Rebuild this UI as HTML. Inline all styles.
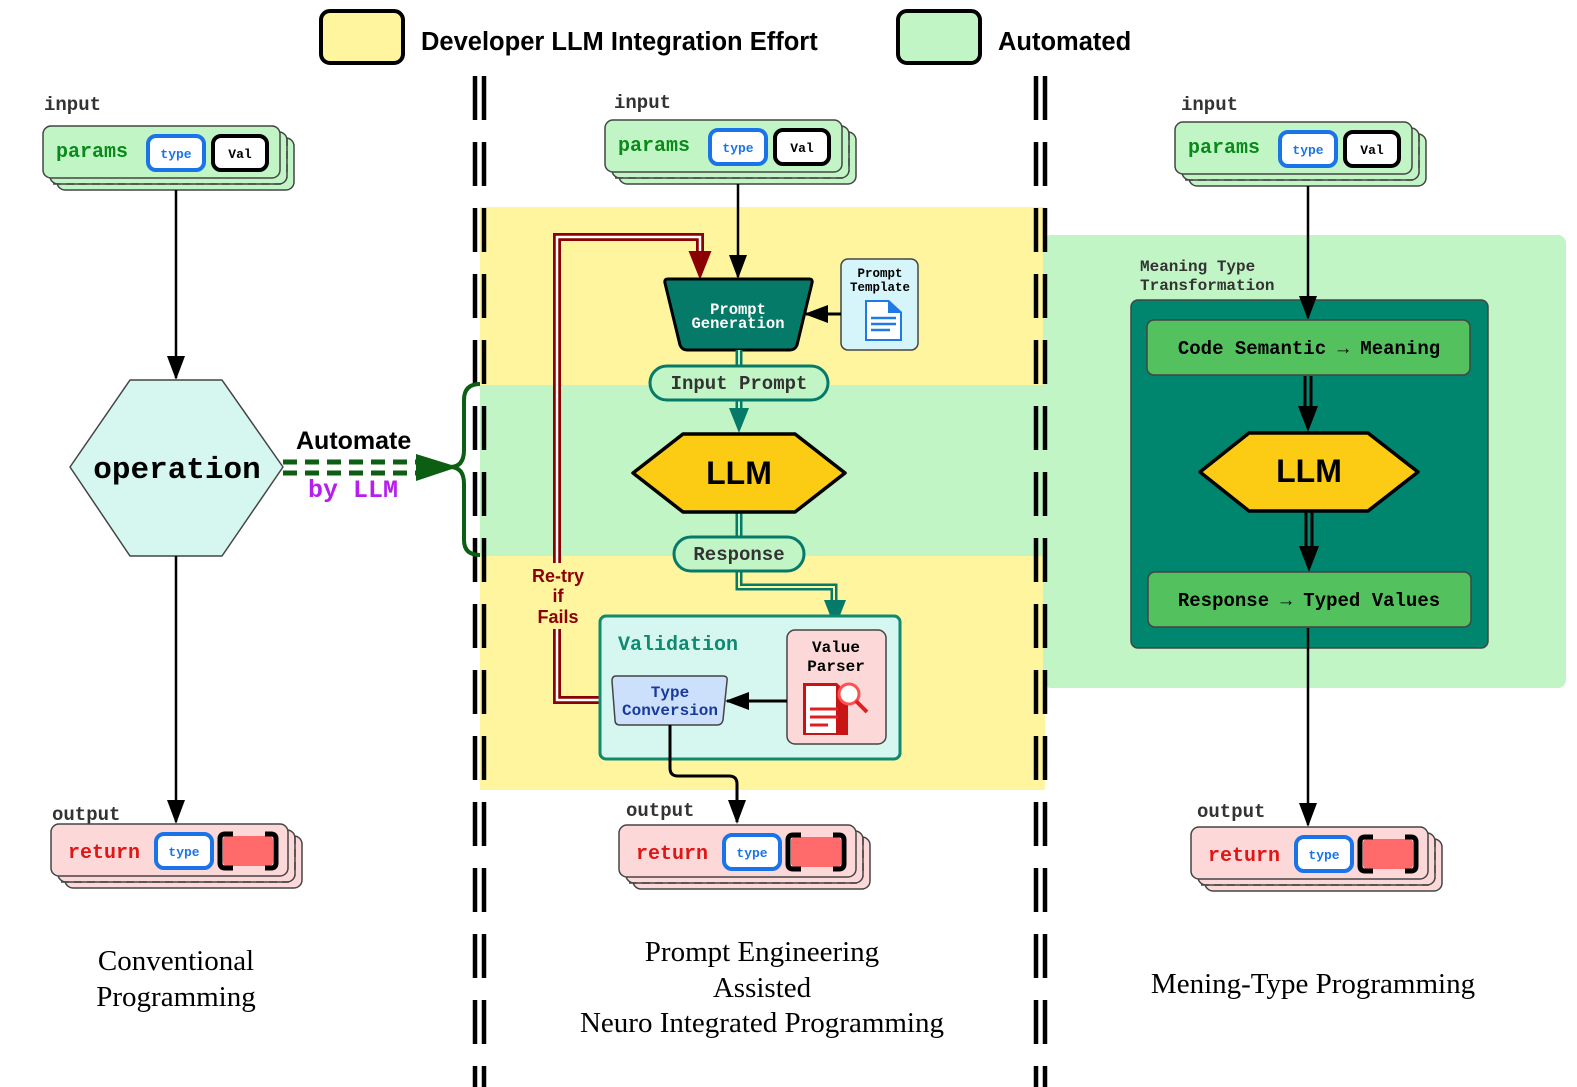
<!DOCTYPE html>
<html><head><meta charset="utf-8"><style>
html,body{margin:0;padding:0;background:#fff;overflow:hidden;width:1577px;height:1087px;}
svg{display:block;}
.m{font-family:"Liberation Mono","DejaVu Sans Mono",monospace;font-weight:bold;}
.s{font-family:"Liberation Sans",sans-serif;font-weight:bold;}
.r{font-family:"Liberation Serif",serif;}
</style></head><body>
<svg width="1577" height="1087" viewBox="0 0 1577 1087" xmlns="http://www.w3.org/2000/svg">
<defs>
<g id="params">
  <rect x="14" y="12" width="237" height="52" rx="8" fill="#c2f5c6" stroke="#444" stroke-width="1.5"/>
  <rect x="7" y="6" width="237" height="52" rx="8" fill="#c2f5c6" stroke="#444" stroke-width="1.5"/>
  <path d="M10 58 H238 M244 12 V52" stroke="#444" stroke-width="1.5" stroke-dasharray="8 5" fill="none"/>
  <rect x="0" y="0" width="237" height="52" rx="8" fill="#c2f5c6" stroke="#444" stroke-width="1.5"/>
  <text x="13" y="31" class="m" font-size="20" fill="#0a8a1a">params</text>
  <rect x="105" y="10" width="56" height="34" rx="8" fill="#fff" stroke="#1a73e8" stroke-width="4"/>
  <text x="133" y="32" class="m" font-size="13" fill="#1a73e8" text-anchor="middle">type</text>
  <rect x="170" y="10" width="54" height="34" rx="8" fill="#fff" stroke="#000" stroke-width="4"/>
  <text x="197" y="32" class="m" font-size="13" fill="#000" text-anchor="middle">Val</text>
</g>
<g id="ret">
  <rect x="14" y="12" width="237" height="52" rx="8" fill="#fdd8d8" stroke="#444" stroke-width="1.5"/>
  <rect x="7" y="6" width="237" height="52" rx="8" fill="#fdd8d8" stroke="#444" stroke-width="1.5"/>
  <path d="M10 58 H238 M244 12 V52" stroke="#444" stroke-width="1.5" stroke-dasharray="8 5" fill="none"/>
  <rect x="0" y="0" width="237" height="52" rx="8" fill="#fdd8d8" stroke="#444" stroke-width="1.5"/>
  <text x="17" y="34" class="m" font-size="20" fill="#e01515">return</text>
  <rect x="105" y="10" width="56" height="34" rx="8" fill="#fff" stroke="#1a73e8" stroke-width="4"/>
  <text x="133" y="32" class="m" font-size="13" fill="#1a73e8" text-anchor="middle">type</text>
  <rect x="172" y="12" width="50" height="30" rx="4" fill="#ff6b6b"/>
  <path d="M182 10 H174 Q169 10 169 15 V39 Q169 44 174 44 H182 M214 10 H220 Q225 10 225 15 V39 Q225 44 220 44 H214" stroke="#000" stroke-width="5" fill="none"/>
</g>
<marker id="ab" markerWidth="24" markerHeight="18" refX="22" refY="9" orient="auto" markerUnits="userSpaceOnUse" viewBox="0 0 24 18"><path d="M0 0 L24 9 L0 18z" fill="#000"/></marker>
</defs>

<rect x="480" y="207" width="565" height="178" fill="#fff59f"/>
<rect x="480" y="385" width="565" height="171" fill="#c2f5c6"/>
<rect x="480" y="556" width="565" height="234" fill="#fff59f"/>
<rect x="1043" y="235" width="523" height="453" rx="8" fill="#c2f5c6"/>

<g stroke="#000" stroke-width="4.5" stroke-dasharray="44 22">
<line x1="475" y1="76" x2="475" y2="1087"/><line x1="484" y1="76" x2="484" y2="1087"/>
<line x1="1036" y1="76" x2="1036" y2="1087"/><line x1="1045" y1="76" x2="1045" y2="1087"/>
</g>

<rect x="321" y="11" width="82" height="52" rx="9" fill="#fff59f" stroke="#000" stroke-width="4"/>
<text x="421" y="50" class="s" font-size="25.5" fill="#000">Developer LLM Integration Effort</text>
<rect x="898" y="11" width="82" height="52" rx="9" fill="#c2f5c6" stroke="#000" stroke-width="4"/>
<text x="998" y="50" class="s" font-size="25.5" fill="#000">Automated</text>

<text x="44" y="110" class="m" font-size="19" fill="#333">input</text>
<use href="#params" x="43" y="126"/>
<line x1="176" y1="190" x2="176" y2="378" stroke="#000" stroke-width="2.5" marker-end="url(#ab)"/>
<polygon points="70,467 130,380 222,380 283,467 222,556 130,556" fill="#d5f7ef" stroke="#444" stroke-width="1.5" stroke-linejoin="round"/>
<text x="177" y="478" class="m" font-size="31" fill="#000" text-anchor="middle">operation</text>
<line x1="176" y1="556" x2="176" y2="822" stroke="#000" stroke-width="2.5" marker-end="url(#ab)"/>
<text x="52" y="820" class="m" font-size="19" fill="#333">output</text>
<use href="#ret" x="51" y="824"/>
<text x="176" y="970" class="r" font-size="29" fill="#000" text-anchor="middle">Conventional</text>
<text x="176" y="1006" class="r" font-size="29" fill="#000" text-anchor="middle">Programming</text>

<text x="296" y="449" class="s" font-size="25" fill="#000">Automate</text>
<text x="308" y="497" class="m" font-size="25" fill="#b61ef0">by LLM</text>
<g stroke="#0b5e12" stroke-width="5" stroke-dasharray="14 8">
<line x1="283" y1="462" x2="420" y2="462"/><line x1="283" y1="473" x2="420" y2="473"/></g>
<path d="M416 454 L458 467 L416 481z" fill="#0b5e12"/>
<path d="M480 384 Q464 384 464 400 V450 Q464 467 450 467 Q464 467 464 484 V540 Q464 555 480 555" stroke="#0b5e12" stroke-width="4" fill="none"/>

<text x="614" y="108" class="m" font-size="19" fill="#333">input</text>
<use href="#params" x="605" y="120"/>
<line x1="738" y1="184" x2="738" y2="277" stroke="#000" stroke-width="2.5" marker-end="url(#ab)"/>
<path d="M612 700 H557 V237 H700 V258" stroke="#8b0000" stroke-width="8" fill="none"/>
<path d="M612 700 H557 V237 H700 V258" stroke="#fff" stroke-width="2.5" fill="none"/>
<path d="M690 252 L700 277 L710 252z" fill="#8b0000" stroke="#8b0000" stroke-width="2"/>
<rect x="527" y="563" width="62" height="66" fill="#fff59f"/>
<text x="558" y="582" class="s" font-size="18" fill="#8b0000" text-anchor="middle">Re-try</text>
<text x="558" y="602" class="s" font-size="18" fill="#8b0000" text-anchor="middle">if</text>
<text x="558" y="623" class="s" font-size="18" fill="#8b0000" text-anchor="middle">Fails</text>
<path d="M668 279 H809 Q813 279 812 283 L797 345 Q795 350 790 350 H687 Q682 350 680 345 L665 283 Q664 279 668 279z" fill="#067a68" stroke="#000" stroke-width="3"/>
<text x="738" y="314" class="m" font-size="15.5" fill="#fff" text-anchor="middle">Prompt</text>
<text x="738" y="328" class="m" font-size="15.5" fill="#fff" text-anchor="middle">Generation</text>
<rect x="841" y="259" width="77" height="91" rx="7" fill="#d5f5fb" stroke="#444" stroke-width="1.5"/>
<text x="880" y="277" class="m" font-size="12.5" fill="#000" text-anchor="middle">Prompt</text>
<text x="880" y="291" class="m" font-size="12.5" fill="#000" text-anchor="middle">Template</text>
<path d="M865 300 H889 L902 312 V341 H865z" fill="#1e7be6"/>
<path d="M867 302 H888 V313 H900 V339 H867z" fill="#fff"/>
<path d="M871 318 H896 M871 324 H896 M871 330 H890" stroke="#1e7be6" stroke-width="2.5"/>
<line x1="841" y1="314" x2="806" y2="314" stroke="#000" stroke-width="3" marker-end="url(#ab)"/>
<g stroke="#067a68" stroke-width="7" fill="none"><path d="M739 350 V366"/><path d="M739 400 V420"/><path d="M739 512 V537"/><path d="M739 571 V587 H834 V610"/></g>
<g stroke="#c2f5c6" stroke-width="2" fill="none"><path d="M739 350 V366"/><path d="M739 400 V420"/><path d="M739 512 V537"/></g>
<path d="M739 571 V587 H834 V610" stroke="#fff59f" stroke-width="2" fill="none"/>
<path d="M729 408 L739 433 L749 408z" fill="#067a68"/>
<path d="M824 600 L835 628 L846 600z" fill="#067a68"/>
<rect x="650" y="366" width="178" height="34" rx="17" fill="#c2f5c6" stroke="#067a68" stroke-width="3"/>
<text x="739" y="389" class="m" font-size="19" fill="#333" text-anchor="middle">Input Prompt</text>
<polygon points="633,473 683,434 795,434 845,473 795,512 683,512" fill="#fccc15" stroke="#000" stroke-width="3.5" stroke-linejoin="round"/>
<text x="739" y="484" class="s" font-size="32" fill="#000" text-anchor="middle">LLM</text>
<rect x="674" y="537" width="130" height="34" rx="17" fill="#c2f5c6" stroke="#067a68" stroke-width="3"/>
<text x="739" y="560" class="m" font-size="19" fill="#333" text-anchor="middle">Response</text>
<rect x="600" y="616" width="300" height="143" rx="6" fill="#d5f7ef" stroke="#0f8a70" stroke-width="3"/>
<text x="618" y="650" class="m" font-size="20" fill="#0f8a70">Validation</text>
<rect x="787" y="630" width="99" height="114" rx="8" fill="#fdd8d8" stroke="#444" stroke-width="1.5"/>
<text x="836" y="652" class="m" font-size="16" fill="#000" text-anchor="middle">Value</text>
<text x="836" y="671" class="m" font-size="16" fill="#000" text-anchor="middle">Parser</text>
<path d="M803 683 H837 L848 694 V735 H803z" fill="#c81414"/>
<path d="M806 686 H836 V733 H806z" fill="#fff"/>
<path d="M810 709 H838 M810 717 H838 M810 725 H828" stroke="#e02020" stroke-width="3"/>
<circle cx="849" cy="694" r="10" fill="#fff" stroke="#ff5050" stroke-width="3"/>
<line x1="856" y1="701" x2="867" y2="712" stroke="#e02020" stroke-width="4"/>
<line x1="787" y1="701" x2="727" y2="701" stroke="#000" stroke-width="3" marker-end="url(#ab)"/>
<path d="M616 676 H723 Q728 676 727 681 L723 720 Q722 725 717 725 H620 Q615 725 615 720 L612 681 Q612 676 616 676z" fill="#cce0fb" stroke="#444" stroke-width="1.5"/>
<text x="670" y="697" class="m" font-size="16" fill="#1a3a9a" text-anchor="middle">Type</text>
<text x="670" y="715" class="m" font-size="16" fill="#1a3a9a" text-anchor="middle">Conversion</text>
<path d="M670 725 V768 Q670 776 678 776 H729 Q737 776 737 784 V822" stroke="#000" stroke-width="3" fill="none" marker-end="url(#ab)"/>
<text x="626" y="816" class="m" font-size="19" fill="#333">output</text>
<use href="#ret" x="619" y="825"/>
<text x="762" y="961" class="r" font-size="29" fill="#000" text-anchor="middle">Prompt Engineering</text>
<text x="762" y="997" class="r" font-size="29" fill="#000" text-anchor="middle">Assisted</text>
<text x="762" y="1032" class="r" font-size="29" fill="#000" text-anchor="middle">Neuro Integrated Programming</text>

<text x="1181" y="110" class="m" font-size="19" fill="#333">input</text>
<use href="#params" x="1175" y="122"/>
<text x="1140" y="271" class="m" font-size="16" fill="#333">Meaning Type</text>
<text x="1140" y="290" class="m" font-size="16" fill="#333">Transformation</text>
<rect x="1131" y="300" width="357" height="348" rx="7" fill="#00856f" stroke="#444" stroke-width="1.5"/>
<line x1="1308" y1="186" x2="1308" y2="318" stroke="#000" stroke-width="2.5" marker-end="url(#ab)"/>
<rect x="1147" y="320" width="323" height="55" rx="7" fill="#54c15f" stroke="#444" stroke-width="1.5"/>
<text x="1309" y="354" class="m" font-size="19" fill="#000" text-anchor="middle">Code Semantic → Meaning</text>
<path d="M1305 376 V410 M1311 376 V410" stroke="#000" stroke-width="3"/>
<path d="M1298 406 L1308 432 L1318 406z" fill="#000"/>
<polygon points="1200,472 1249,433 1368,433 1418,472 1368,511 1249,511" fill="#fccc15" stroke="#000" stroke-width="3.5" stroke-linejoin="round"/>
<text x="1309" y="482" class="s" font-size="32" fill="#000" text-anchor="middle">LLM</text>
<path d="M1306 512 V550 M1312 512 V550" stroke="#000" stroke-width="3"/>
<path d="M1299 546 L1309 572 L1319 546z" fill="#000"/>
<rect x="1148" y="572" width="323" height="55" rx="7" fill="#54c15f" stroke="#444" stroke-width="1.5"/>
<text x="1309" y="606" class="m" font-size="19" fill="#000" text-anchor="middle">Response → Typed Values</text>
<line x1="1308" y1="628" x2="1308" y2="825" stroke="#000" stroke-width="2.5" marker-end="url(#ab)"/>
<text x="1197" y="817" class="m" font-size="19" fill="#333">output</text>
<use href="#ret" x="1191" y="827"/>
<text x="1313" y="993" class="r" font-size="29" fill="#000" text-anchor="middle">Mening-Type Programming</text>
</svg>
</body></html>
